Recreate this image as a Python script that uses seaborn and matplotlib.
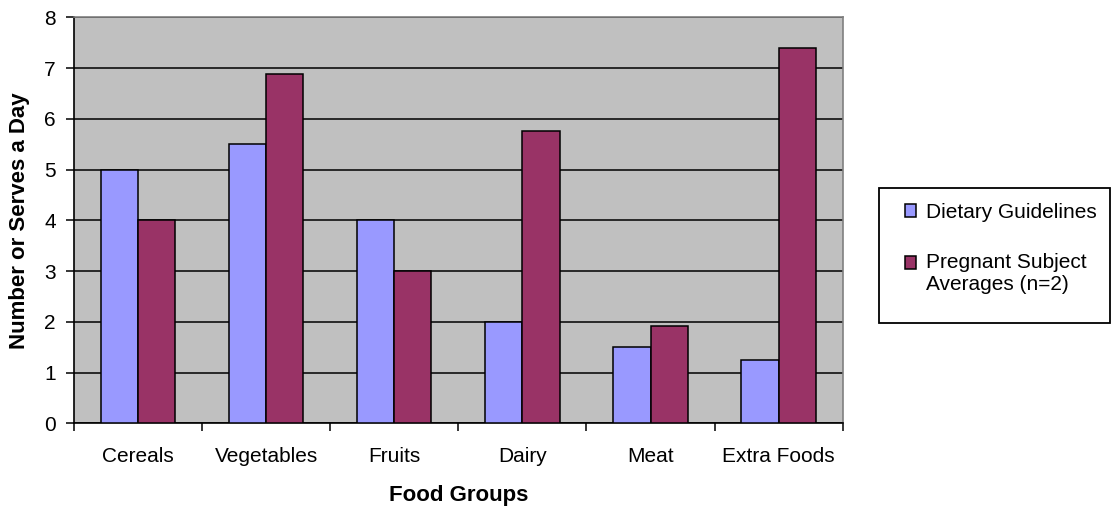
import matplotlib
matplotlib.use("Agg")
import matplotlib.pyplot as plt
from matplotlib.patches import Rectangle
import seaborn as sns
import pandas as pd

categories = ["Cereals", "Vegetables", "Fruits", "Dairy", "Meat", "Extra Foods"]
guidelines = [5.0, 5.5, 4.0, 2.0, 1.5, 1.25]
pregnant = [4.0, 6.88, 3.0, 5.75, 1.92, 7.4]
series_names = ["Dietary Guidelines", "Pregnant Subject\nAverages (n=2)"]
colors = ["#9999FF", "#993366"]

df = pd.DataFrame({
    "Food Groups": categories * 2,
    "value": guidelines + pregnant,
    "series": [series_names[0]] * len(categories) + [series_names[1]] * len(categories),
})

sns.set_theme(style="white")
plt.rcParams["font.family"] = ["Liberation Sans", "DejaVu Sans"]
plt.rcParams["text.color"] = "black"
plt.rcParams["axes.labelcolor"] = "black"
plt.rcParams["xtick.color"] = "black"
plt.rcParams["ytick.color"] = "black"

FS = 15
LFS = 16

fig = plt.figure(figsize=(11.12, 5.08), dpi=100)
ax = fig.add_axes([74 / 1112, 1 - 423.3 / 508, (842.7 - 74) / 1112, (423.3 - 17.3) / 508])
ax.set_facecolor("#C0C0C0")

sns.barplot(data=df, x="Food Groups", y="value", hue="series", palette=colors,
            saturation=1, width=0.58, edgecolor="black", linewidth=1.1, ax=ax, zorder=3)

ax.set_ylim(0, 8)
ax.set_xlim(-0.5, len(categories) - 0.5)
ax.set_yticks(range(0, 9))
ax.yaxis.grid(True, color="black", linewidth=1.1, zorder=0)
ax.set_axisbelow(True)
ax.tick_params(axis="y", which="major", direction="out", length=6, width=1.1,
               color="black", labelsize=FS, labelcolor="black", pad=7, left=True)

ax.set_xticks(range(len(categories)))
ax.set_xticklabels(categories, fontsize=FS, color="black")
ax.tick_params(axis="x", which="major", length=0, pad=17)
ax.set_xticks([i - 0.5 for i in range(len(categories) + 1)], minor=True)
ax.tick_params(axis="x", which="minor", direction="out", length=6, width=1.1,
               color="black", bottom=True)

for s in ["left", "bottom"]:
    ax.spines[s].set_color("black")
    ax.spines[s].set_linewidth(1.2)
for s in ["top", "right"]:
    ax.spines[s].set_color("#808080")
    ax.spines[s].set_linewidth(1.2)

ax.set_xlabel("Food Groups", fontsize=LFS, fontweight="bold", labelpad=14, color="black")
ax.set_ylabel("Number or Serves a Day", fontsize=LFS, fontweight="bold", labelpad=10, color="black")

leg = ax.legend(loc="upper left", bbox_to_anchor=(905 / 1112, 1 - 203 / 508),
                bbox_transform=fig.transFigure, frameon=False,
                fontsize=FS, handlelength=0.55, handleheight=0.55, handletextpad=0.45,
                labelspacing=1.5, borderpad=0, borderaxespad=0)
for h in leg.legend_handles:
    h.set_edgecolor("black")
    h.set_linewidth(1.1)
for t in leg.get_texts():
    t.set_color("black")
# align the second swatch with the first line of its two-line label
h2 = leg.legend_handles[1]
h2.set_y(h2.get_y() + 8.3)

fig.add_artist(Rectangle((879 / 1112, 1 - 323 / 508), 231 / 1112, 135 / 508,
                         transform=fig.transFigure, fill=False,
                         edgecolor="black", linewidth=1.3))

fig.savefig("out.png", dpi=100, facecolor="white")
